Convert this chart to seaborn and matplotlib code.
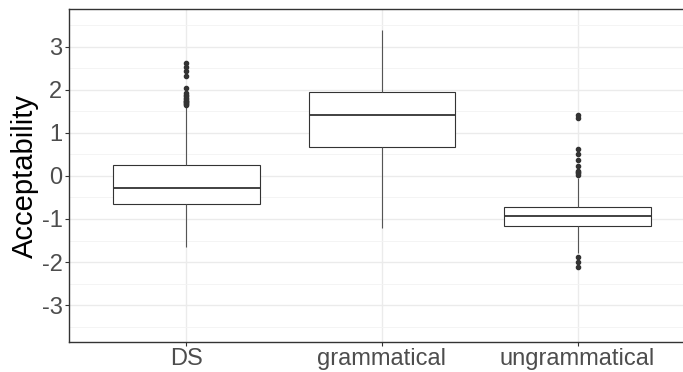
import matplotlib
matplotlib.use("Agg")
import matplotlib.pyplot as plt
import seaborn as sns
import pandas as pd
import numpy as np

# ---- data ----
categories = ["DS", "grammatical", "ungrammatical"]
whisker_low = [-1.64, -1.20, -1.80]
q1 = [-0.66, 0.67, -1.17]
median = [-0.27, 1.42, -0.94]
q3 = [0.255, 1.94, -0.71]
whisker_high = [1.61, 3.39, -0.04]
outliers_low = [[], [], [-1.89, -2.01, -2.11]]
outliers_high = [
    [1.65, 1.67, 1.69, 1.71, 1.73, 1.75, 1.78, 1.81, 1.85, 1.89, 1.92,
     2.05, 2.33, 2.44, 2.54, 2.63],
    [],
    [0.03, 0.06, 0.09, 0.12, 0.23, 0.37, 0.50, 0.63, 1.34, 1.42],
]
y_ticks = [-3, -2, -1, 0, 1, 2, 3]


def sample_for(lo, wlo, a, m, b, whi, hi):
    """Build a sample whose box-plot statistics equal the read values."""
    k = max(len(lo), len(hi)) + 1
    vals = list(lo) + [wlo] * (k - len(lo))
    vals += [a] * k + [m] + [b] * k
    vals += [whi] * (k - len(hi)) + list(hi)
    return vals


rows = []
for i, c in enumerate(categories):
    for v in sample_for(outliers_low[i], whisker_low[i], q1[i], median[i],
                        q3[i], whisker_high[i], outliers_high[i]):
        rows.append((c, v))
df = pd.DataFrame(rows, columns=["condition", "Acceptability"])

sns.set_theme(style="white")
plt.rcParams["font.family"] = ["Liberation Sans", "DejaVu Sans"]

W, H = 683, 372
fig = plt.figure(figsize=(W / 100, H / 100), dpi=100)
left_px, right_px, top_px, bottom_px = 69, 695, 9.3, 341.7
ax = fig.add_axes([left_px / W, (H - bottom_px) / H,
                   (right_px - left_px) / W, (bottom_px - top_px) / H])

dark = "#333333"
sns.boxplot(data=df, x="condition", y="Acceptability", order=categories,
            ax=ax, width=0.75, color="white", linecolor=dark, linewidth=0.8,
            saturation=1,
            flierprops=dict(marker="o", markersize=3.0, markerfacecolor=dark,
                            markeredgecolor=dark),
            medianprops=dict(color=dark, linewidth=1.3),
            whiskerprops=dict(color="#555555", linewidth=0.8),
            capprops=dict(linewidth=0))

ax.set_xlim(-0.6, 2.6)
ax.set_ylim(-3.85, 3.87)
ax.set_yticks(y_ticks)
ax.set_yticklabels([str(t) for t in y_ticks])
ax.set_yticks(np.arange(-3.5, 4.0, 1.0), minor=True)

ax.set_axisbelow(True)
ax.grid(True, which="major", color="#EBEBEB", linewidth=1.0)
ax.grid(True, which="minor", axis="y", color="#F3F3F3", linewidth=0.6)

for s in ["top", "left", "bottom"]:
    ax.spines[s].set_color(dark)
    ax.spines[s].set_linewidth(1.0)
ax.spines["right"].set_visible(False)

ax.tick_params(axis="both", which="major", length=3.2, width=0.8,
               color=dark, labelcolor="#4D4D4D", labelsize=17, pad=1.5,
               left=True, bottom=True)
ax.tick_params(axis="y", which="minor", length=0)
ax.set_xlabel("")
ax.set_ylabel("Acceptability", fontsize=21, color="black", labelpad=2)

fig.savefig("out.png", dpi=100)
